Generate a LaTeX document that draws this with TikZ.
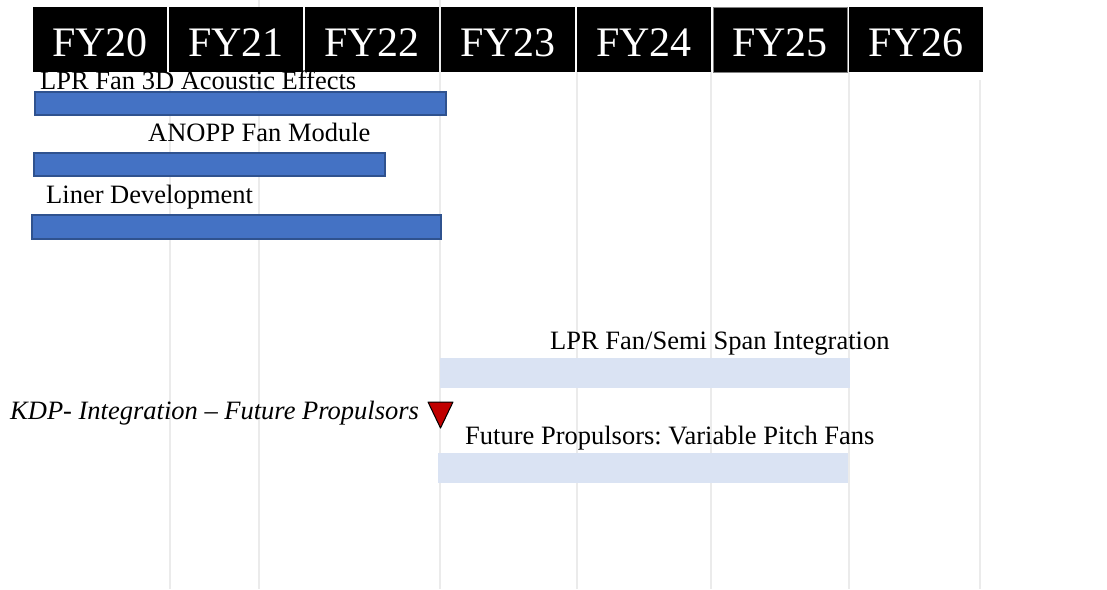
\documentclass[tikz,border=0pt]{standalone}
\usepackage{fontspec}
\setmainfont{Liberation Serif}
\usetikzlibrary{positioning}
\definecolor{barblue}{HTML}{4472C4}
\definecolor{bardark}{HTML}{2F528F}
\definecolor{barpale}{HTML}{DAE3F3}
\definecolor{gridgray}{HTML}{EBEBEB}
\definecolor{kdpred}{HTML}{C00000}
\frenchspacing

\begin{document}
\begin{tikzpicture}[x=1pt, y=-1pt,
		yr/.style= {fill=black, text=white, minimum width=134pt, minimum height=65pt, inner sep=0pt, outer sep=0pt, text height=34pt, text depth=0pt, font=\fontsize{42}{42}\selectfont},
		bar/.style= {fill=barblue, draw=bardark, line width=1.2pt, anchor=north west, inner sep=0pt, outer sep=0pt},
		pale/.style= {fill=barpale, anchor=north west, inner sep=0pt, outer sep=0pt},
		lbl/.style= {anchor=base west, inner sep=0pt, font=\fontsize{26.5}{30}\selectfont},
		gridline/.style= {draw=gridgray, line width=1.5pt}]
		\useasboundingbox (0,0) rectangle (1107,589);

		% grid
		\foreach \gx/\gy in {170/70, 259/0, 440/0, 577/70, 711/70, 849/70, 980/80}
			\draw[gridline] (\gx,\gy) -- (\gx,589);

		% years
		\node[yr, anchor=north west] (fy20) at (33,7) {FY20};
		\node[yr] (fy21) [right=2pt of fy20] {FY21};
		\node[yr] (fy22) [right=2pt of fy21] {FY22};
		\node[yr] (fy23) [right=2pt of fy22] {FY23};
		\node[yr] (fy24) [right=2pt of fy23] {FY24};
		\node[yr, draw=gray, line width=0.8pt] (fy25) [right=2pt of fy24] {FY25};
		\node[yr] (fy26) [right=2pt of fy25] {FY26};

		% tasks
		\node[bar, minimum width=411pt, minimum height=23pt] (b3d) at (35,92) {};
		\node[lbl] (l3d) at (40,89) {LPR Fan 3D Acoustic Effects};
		\node[bar, minimum width=351pt, minimum height=23pt] (banopp) at (34,153) {};
		\node[lbl] (lanopp) at (148,141) {ANOPP Fan Module};
		\node[bar, minimum width=409pt, minimum height=24pt] (bliner) at (32,215) {};
		\node[lbl] (lliner) at (46,203) {Liner Development};

		\node[pale, minimum width=410pt, minimum height=30pt] (bsemi) at (440,358) {};
		\node[lbl] (lsemi) at (550,349) {LPR Fan/Semi Span Integration};
		\node[pale, minimum width=410pt, minimum height=30pt] (bvpf) at (438,453) {};
		\node[lbl] (lvpf) at (465,444) {Future Propulsors: Variable Pitch Fans};

		% milestone
		\node[lbl, font=\fontsize{26.5}{30}\selectfont\itshape] (lkdp) at (10,419) {KDP- Integration -- Future Propulsors};
		\filldraw[fill=kdpred, draw=black, line width=1pt, line join=round] (428,402) -- (453,402) -- (440.5,428) -- cycle;
\end{tikzpicture}
\end{document}
